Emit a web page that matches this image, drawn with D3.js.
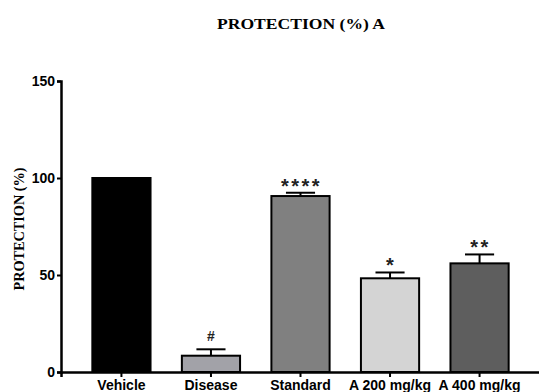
<!DOCTYPE html>
<html><head><meta charset="utf-8">
<script src="https://cdn.jsdelivr.net/npm/d3@7"></script>
<style>body{margin:0;background:#fff}svg{display:block}</style>
</head><body>
<script>
const categories = ["Vehicle", "Disease", "Standard", "A 200 mg/kg", "A 400 mg/kg"];
const means = [100, 8.4, 90.7, 48.3, 56.0];
const errors = [0, 3.3, 1.7, 3.0, 4.6];
const marks = ["", "#", "****", "*", "**"];
const fills = ["#000000", "#a2a2a8", "#808080", "#d4d4d4", "#5e5e5e"];
const yTicks = [0, 50, 100, 150];

const W = 539, H = 392;
const svg = d3.select("body").append("svg").attr("width", W).attr("height", H);

const x = d3.scaleBand().domain(categories).range([61, 540]).paddingInner(0.35).paddingOuter(0.35);
const y = d3.scaleLinear().domain([0, 150]).range([372, 81]);

// title
svg.append("text").attr("x", 301).attr("y", 29).attr("text-anchor", "middle")
  .attr("font-family", "Liberation Serif, Times New Roman, serif").attr("font-weight", "bold")
  .attr("font-size", 15).attr("textLength", 168).attr("lengthAdjust", "spacingAndGlyphs")
  .text("PROTECTION (%) A");

// y axis title
svg.append("text").attr("transform", "translate(24,229) rotate(-90)").attr("text-anchor", "middle")
  .attr("font-family", "Liberation Serif, Times New Roman, serif").attr("font-weight", "bold")
  .attr("font-size", 15).attr("textLength", 123).attr("lengthAdjust", "spacingAndGlyphs")
  .text("PROTECTION (%)");

// bars
const g = svg.append("g");
g.selectAll("rect").data(categories).join("rect")
  .attr("x", d => x(d)).attr("width", x.bandwidth())
  .attr("y", (d, i) => y(means[i])).attr("height", (d, i) => y(0) - y(means[i]))
  .attr("fill", (d, i) => fills[i]).attr("stroke", "#000").attr("stroke-width", 2);

// error bars
const capW = x.bandwidth() * 0.5;
categories.forEach((c, i) => {
  if (!errors[i]) return;
  const cx = x(c) + x.bandwidth() / 2;
  g.append("line").attr("x1", cx).attr("x2", cx).attr("y1", y(means[i])).attr("y2", y(means[i] + errors[i]))
    .attr("stroke", "#000").attr("stroke-width", 2);
  g.append("line").attr("x1", cx - capW / 2).attr("x2", cx + capW / 2)
    .attr("y1", y(means[i] + errors[i])).attr("y2", y(means[i] + errors[i]))
    .attr("stroke", "#000").attr("stroke-width", 2);
});

// significance marks
categories.forEach((c, i) => {
  if (!marks[i]) return;
  const cx = x(c) + x.bandwidth() / 2;
  const isHash = marks[i] === "#";
  svg.append("text").attr("x", cx + (isHash ? 0 : 1)).attr("y", y(means[i] + errors[i]) - (isHash ? 8 : 0))
    .attr("text-anchor", "middle")
    .attr("font-family", "Liberation Sans, Arial, sans-serif").attr("font-weight", "bold")
    .attr("font-size", isHash ? 14 : 20).attr("letter-spacing", isHash ? 0 : 2.5)
    .attr("fill", "#222")
    .text(marks[i]);
});

// y axis
const yAxis = svg.append("g").attr("transform", "translate(61,0)")
  .call(d3.axisLeft(y).tickValues(yTicks).tickSize(4).tickPadding(2));
yAxis.select(".domain").attr("stroke", "#000").attr("stroke-width", 2.5);
yAxis.selectAll(".tick line").attr("stroke", "#000").attr("stroke-width", 2);
yAxis.selectAll(".tick text").attr("font-family", "Liberation Sans, Arial, sans-serif")
  .attr("font-weight", "bold").attr("font-size", 14).attr("fill", "#000");

// x axis
const xAxis = svg.append("g").attr("transform", "translate(0,372)")
  .call(d3.axisBottom(x).tickSizeOuter(0).tickSize(5).tickPadding(3));
xAxis.select(".domain").attr("stroke", "#000").attr("stroke-width", 2.5);
xAxis.selectAll(".tick line").attr("stroke", "#000").attr("stroke-width", 2);
xAxis.selectAll(".tick text").attr("font-family", "Liberation Sans, Arial, sans-serif")
  .attr("font-weight", "bold").attr("font-size", 14).attr("fill", "#000");
</script>
</body></html>
